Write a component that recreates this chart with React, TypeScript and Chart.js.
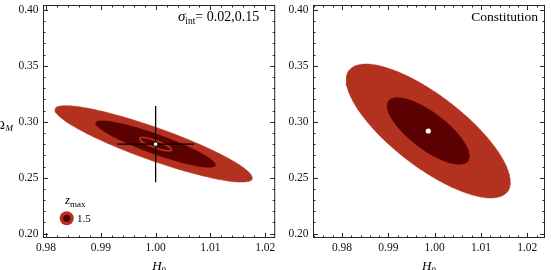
import { useEffect, useRef } from "react";
import { Chart, registerables } from "chart.js";

Chart.register(...registerables);

// Axis ticks shared by both panels
const H0_TICKS = [0.98, 0.99, 1.0, 1.01, 1.02];
const OMEGA_TICKS = [0.2, 0.25, 0.3, 0.35, 0.4];
const H0_MINOR_STEP = 0.002;
const OMEGA_MINOR_STEP = 0.01;

// Plot ranges
const LEFT_H0_RANGE = [0.97945, 1.02182];
const RIGHT_H0_RANGE = [0.97374, 1.02382];
const OMEGA_RANGE = [0.19616, 0.4042];

// Left panel (sigma_int = 0.02, 0.15): fiducial model with its 1-sigma errors
const LEFT_FIDUCIAL = [1.0, 0.28];
const LEFT_ERROR = [0.007, 0.034];

// Confidence contours: centre, half-vector to the right-most point,
// and the vertical half-chord through the centre (data units)
type Contour = { c: number[]; u: number[]; v: number };
const LEFT_OUTER: Contour = { c: [0.99964, 0.2802], u: [0.018, -0.0304], v: 0.0155 };
const LEFT_INNER: Contour = { c: [1.0, 0.28], u: [0.01091, -0.01857], v: 0.00924 };
const LEFT_CORE: Contour = { c: [1.0, 0.28], u: [0.00291, -0.00491], v: 0.0034 };

// Right panel (Constitution)
const RIGHT_BEST = [0.99863, 0.2917];
const RIGHT_OUTER: Contour = { c: [0.99863, 0.2917], u: [0.0177, -0.04554], v: 0.03875 };
const RIGHT_INNER: Contour = { c: [0.99863, 0.2917], u: [0.00885, -0.02232], v: 0.01964 };

const Z_MAX_LABEL = "1.5";

const RED = "#b3311f";
const DARK = "#5c0101";
const SERIF = '"Liberation Serif", "Times New Roman", Times, serif';

function ellipsePoints(e: Contour, n = 200) {
  const pts: { x: number; y: number }[] = [];
  for (let i = 0; i <= n; i++) {
    const t = (2 * Math.PI * i) / n;
    pts.push({
      x: e.c[0] + e.u[0] * Math.cos(t),
      y: e.c[1] + e.u[1] * Math.cos(t) + e.v * Math.sin(t),
    });
  }
  return pts;
}

function minorValues(min: number, max: number, step: number) {
  const out: number[] = [];
  const start = Math.ceil(min / step - 1e-6);
  const end = Math.floor(max / step + 1e-6);
  for (let k = start; k <= end; k++) out.push(+(k * step).toFixed(6));
  return out;
}

type Part = { text: string; font: string; dy?: number };

function drawRich(ctx: CanvasRenderingContext2D, parts: Part[], x: number, y: number, align: "left" | "right" | "center") {
  ctx.textAlign = "left";
  ctx.textBaseline = "alphabetic";
  const widths = parts.map((p) => {
    ctx.font = p.font;
    return ctx.measureText(p.text).width;
  });
  const total = widths.reduce((a, b) => a + b, 0);
  let cx = align === "left" ? x : align === "right" ? x - total : x - total / 2;
  parts.forEach((p, i) => {
    ctx.font = p.font;
    ctx.fillText(p.text, cx, y + (p.dy || 0));
    cx += widths[i];
  });
}

const framePlugin = {
  id: "frameTicks",
  afterDatasetsDraw(chart: any) {
    const { ctx, chartArea: a, scales } = chart;
    const xs = scales.x;
    const ys = scales.y;
    ctx.save();
    ctx.strokeStyle = "#262626";
    ctx.lineWidth = 1;
    ctx.strokeRect(a.left + 0.5, a.top + 0.5, a.right - a.left - 1, a.bottom - a.top - 1);
    const major = 5;
    const minor = 2.5;
    ctx.beginPath();
    minorValues(xs.min, xs.max, H0_MINOR_STEP).forEach((v) => {
      const isMajor = H0_TICKS.some((t) => Math.abs(t - v) < 1e-6);
      const len = isMajor ? major : minor;
      const px = Math.round(xs.getPixelForValue(v)) + 0.5;
      ctx.moveTo(px, a.bottom);
      ctx.lineTo(px, a.bottom - len);
      ctx.moveTo(px, a.top);
      ctx.lineTo(px, a.top + len);
    });
    minorValues(ys.min, ys.max, OMEGA_MINOR_STEP).forEach((v) => {
      const isMajor = OMEGA_TICKS.some((t) => Math.abs(t - v) < 1e-6);
      const len = isMajor ? major : minor;
      const py = Math.round(ys.getPixelForValue(v)) + 0.5;
      ctx.moveTo(a.left, py);
      ctx.lineTo(a.left + len, py);
      ctx.moveTo(a.right, py);
      ctx.lineTo(a.right - len, py);
    });
    ctx.stroke();
    ctx.restore();
  },
};

function axisTitles(ctx: CanvasRenderingContext2D, a: any, h: number, withOmega: boolean) {
  ctx.fillStyle = "#000";
  drawRich(
    ctx,
    [
      { text: "H", font: `italic 13px ${SERIF}` },
      { text: "0", font: `9px ${SERIF}`, dy: 3 },
    ],
    (a.left + a.right) / 2,
    h - 0.5,
    "center"
  );
  if (withOmega) {
    ctx.font = `13px ${SERIF}`;
    ctx.textAlign = "right";
    ctx.textBaseline = "alphabetic";
    ctx.fillText("Ω", 5, 129);
    ctx.font = `italic 9px ${SERIF}`;
    ctx.textAlign = "left";
    ctx.fillText("M", 5.5, 131);
  }
}

const leftDecor = {
  id: "leftDecor",
  afterDraw(chart: any) {
    const { ctx, chartArea: a } = chart;
    ctx.save();
    ctx.fillStyle = "#000";
    drawRich(
      ctx,
      [
        { text: "σ", font: `italic 15px ${SERIF}` },
        { text: "int", font: `9.5px ${SERIF}`, dy: 3 },
        { text: "= 0.02,0.15", font: `14px ${SERIF}` },
      ],
      a.right - 16,
      a.top + 16,
      "right"
    );
    // z_max legend
    drawRich(
      ctx,
      [
        { text: "z", font: `italic 13px ${SERIF}` },
        { text: "max", font: `9px ${SERIF}`, dy: 3 },
      ],
      a.left + 22,
      a.bottom - 34,
      "left"
    );
    const cx = a.left + 23.7;
    const cy = a.bottom - 19.7;
    ctx.fillStyle = RED;
    ctx.beginPath();
    ctx.arc(cx, cy, 7, 0, Math.PI * 2);
    ctx.fill();
    ctx.fillStyle = DARK;
    ctx.beginPath();
    ctx.arc(cx, cy, 3.6, 0, Math.PI * 2);
    ctx.fill();
    ctx.fillStyle = "#000";
    ctx.font = `11px ${SERIF}`;
    ctx.textAlign = "left";
    ctx.textBaseline = "middle";
    ctx.fillText(Z_MAX_LABEL, a.left + 34, cy + 0.5);
    axisTitles(ctx, a, chart.height, true);
    ctx.restore();
  },
};

const rightDecor = {
  id: "rightDecor",
  afterDraw(chart: any) {
    const { ctx, chartArea: a } = chart;
    ctx.save();
    ctx.fillStyle = "#000";
    ctx.font = `13.5px ${SERIF}`;
    ctx.textAlign = "right";
    ctx.textBaseline = "alphabetic";
    ctx.fillText("Constitution", a.right - 7, a.top + 16);
    axisTitles(ctx, a, chart.height, false);
    ctx.restore();
  },
};

function fillSet(e: Contour, color: string, order: number) {
  return {
    data: ellipsePoints(e),
    showLine: true,
    fill: "shape",
    backgroundColor: color,
    borderColor: color,
    borderWidth: 0.5,
    pointRadius: 0,
    order,
  };
}

function lineSet(pts: number[][], order: number) {
  return {
    data: pts.map(([x, y]) => ({ x, y })),
    showLine: true,
    fill: false,
    borderColor: "#000",
    borderWidth: 1.3,
    pointRadius: 0,
    order,
  };
}

function dotSet(p: number[], r: number, border: string, bw: number) {
  return {
    data: [{ x: p[0], y: p[1] }],
    showLine: false,
    pointRadius: r,
    pointBackgroundColor: "#fff",
    pointBorderColor: border,
    pointBorderWidth: bw,
    order: 0,
  };
}

const leftDatasets = () => [
  fillSet(LEFT_OUTER, RED, 7),
  fillSet(LEFT_INNER, DARK, 6),
  {
    data: ellipsePoints(LEFT_CORE),
    showLine: true,
    fill: false,
    borderColor: RED,
    borderWidth: 1.6,
    pointRadius: 0,
    order: 5,
  },
  lineSet(
    [
      [LEFT_FIDUCIAL[0], LEFT_FIDUCIAL[1] - LEFT_ERROR[1]],
      [LEFT_FIDUCIAL[0], LEFT_FIDUCIAL[1] + LEFT_ERROR[1]],
    ],
    2
  ),
  lineSet(
    [
      [LEFT_FIDUCIAL[0] - LEFT_ERROR[0], LEFT_FIDUCIAL[1]],
      [LEFT_FIDUCIAL[0] + LEFT_ERROR[0], LEFT_FIDUCIAL[1]],
    ],
    1
  ),
  dotSet(LEFT_FIDUCIAL, 2.2, "#111", 0.8),
];

const rightDatasets = () => [
  fillSet(RIGHT_OUTER, RED, 7),
  fillSet(RIGHT_INNER, DARK, 6),
  dotSet(RIGHT_BEST, 2.6, "#fff", 0),
];

type PanelProps = {
  left: number;
  width: number;
  h0Range: number[];
  yWidth: number;
  padRight: number;
  datasets: () => any[];
  decor: any;
};

function zeroPadding(s: any) {
  s.paddingTop = 0;
  s.paddingBottom = 0;
  s.paddingLeft = 0;
  s.paddingRight = 0;
}

function Panel({ left, width, h0Range, yWidth, padRight, datasets, decor }: PanelProps) {
  const ref = useRef<HTMLCanvasElement>(null);
  useEffect(() => {
    const tickFont = { family: SERIF, size: 11.5 };
    const chart = new Chart(ref.current as HTMLCanvasElement, {
      type: "scatter",
      data: { datasets: datasets() as any },
      options: {
        animation: false,
        responsive: false,
        events: [],
        layout: { padding: { top: 5, right: padRight, left: 0, bottom: 0 } },
        plugins: { legend: { display: false }, tooltip: { enabled: false } },
        scales: {
          x: {
            type: "linear",
            min: h0Range[0],
            max: h0Range[1],
            grid: { display: false, drawTicks: false },
            border: { display: false },
            afterBuildTicks: (s: any) => {
              s.ticks = H0_TICKS.map((v) => ({ value: v }));
            },
            afterFit: (s: any) => {
              s.height = 32;
              zeroPadding(s);
            },
            ticks: {
              autoSkip: false,
              maxRotation: 0,
              padding: 3.5,
              color: "#111",
              font: tickFont,
              callback: (v: any) => Number(v).toFixed(2),
            },
          },
          y: {
            type: "linear",
            min: OMEGA_RANGE[0],
            max: OMEGA_RANGE[1],
            grid: { display: false, drawTicks: false },
            border: { display: false },
            afterBuildTicks: (s: any) => {
              s.ticks = OMEGA_TICKS.map((v) => ({ value: v }));
            },
            afterFit: (s: any) => {
              s.width = yWidth;
              zeroPadding(s);
            },
            ticks: {
              autoSkip: false,
              padding: 4.5,
              color: "#111",
              font: tickFont,
              callback: (v: any) => Number(v).toFixed(2),
            },
          },
        },
      } as any,
      plugins: [framePlugin, decor],
    });
    return () => chart.destroy();
  }, []);
  return (
    <canvas
      ref={ref}
      width={width}
      height={270}
      style={{ position: "absolute", left, top: 0, width, height: 270 }}
    />
  );
}

export default function App() {
  return (
    <div style={{ position: "fixed", left: 0, top: 0, width: 551, height: 270, background: "#fff", overflow: "hidden" }}>
      <Panel left={0} width={280} h0Range={LEFT_H0_RANGE} yWidth={43} padRight={4} datasets={leftDatasets} decor={leftDecor} />
      <Panel left={280} width={271} h0Range={RIGHT_H0_RANGE} yWidth={33} padRight={6} datasets={rightDatasets} decor={rightDecor} />
    </div>
  );
}
